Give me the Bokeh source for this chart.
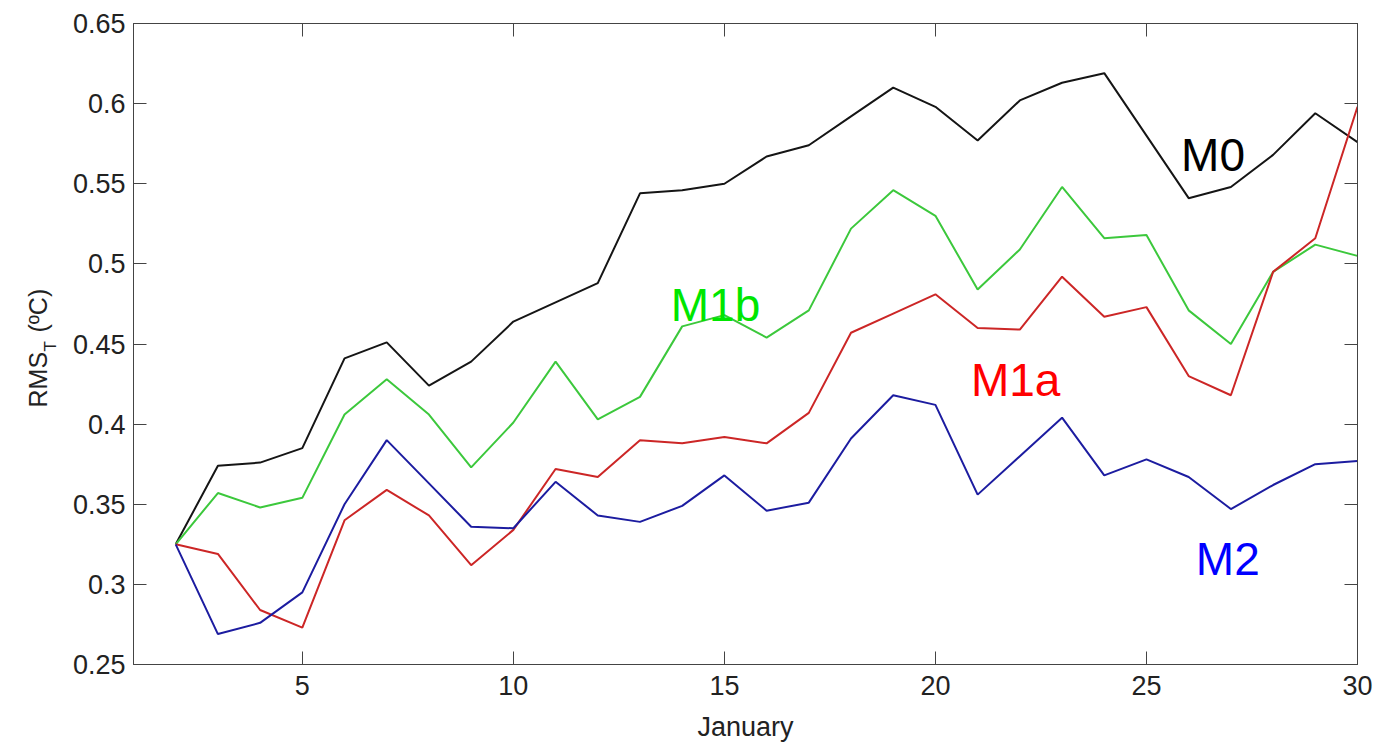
from bokeh.plotting import figure
from bokeh.models import (Range1d, FixedTicker, LinearAxis,
                          CustomJSTickFormatter, ColumnDataSource)
from bokeh.layouts import row
from bokeh.core.properties import value
from bokeh.embed import file_html
from bokeh.resources import INLINE
import math

# ---- data ----
days = list(range(2, 31))
m0 = [0.325, 0.374, 0.376, 0.385, 0.441, 0.451, 0.424, 0.439, 0.464, 0.476,
      0.488, 0.544, 0.546, 0.550, 0.567, 0.574, 0.592, 0.610, 0.598, 0.577,
      0.602, 0.613, 0.619, 0.580, 0.541, 0.548, 0.568, 0.594, 0.576]
m1b = [0.325, 0.357, 0.348, 0.354, 0.406, 0.428, 0.406, 0.373, 0.401, 0.439,
       0.403, 0.417, 0.461, 0.468, 0.454, 0.471, 0.522, 0.546, 0.530, 0.484,
       0.509, 0.548, 0.516, 0.518, 0.471, 0.450, 0.495, 0.512, 0.505]
m1a = [0.325, 0.319, 0.284, 0.273, 0.340, 0.359, 0.343, 0.312, 0.334, 0.372,
       0.367, 0.390, 0.388, 0.392, 0.388, 0.407, 0.457, 0.469, 0.481, 0.460,
       0.459, 0.492, 0.467, 0.473, 0.430, 0.418, 0.495, 0.516, 0.598]
m2 = [0.325, 0.269, 0.276, 0.295, 0.350, 0.390, 0.363, 0.336, 0.335, 0.364,
      0.343, 0.339, 0.349, 0.368, 0.346, 0.351, 0.391, 0.418, 0.412, 0.356,
      0.380, 0.404, 0.368, 0.378, 0.367, 0.347, 0.362, 0.375, 0.377]
series_names = ["M0", "M1b", "M1a", "M2"]
x_ticks = [5, 10, 15, 20, 25, 30]
y_ticks = [0.25, 0.3, 0.35, 0.4, 0.45, 0.5, 0.55, 0.6, 0.65]
x_label = "January"
y_label_parts = ["RMS", "T", "(\u00baC)"]

# ---- styles ----
line_colors = ["#151515", "#3cc83c", "#cc2626", "#1c1ca0"]
text_colors = ["#000000", "#00e600", "#ff0000", "#0000ff"]
label_pos = [(25.82, 0.5677), (13.73, 0.4745), (20.84, 0.4278), (26.17, 0.316)]
FONT = "Liberation Sans"
AX = "#444444"
TXT = "#222222"
LAB_W = 60
H = 744
B_TOP, B_BOT = 23, 78
# y-title pieces: (baseline x px in panel, start position on the y scale, font size)
ylab_layout = [(37, 0.4104, 25), (50, 0.4453, 17), (37, 0.4571, 25)]

yr = Range1d(0.25, 0.65)

# ---- y-axis title panel, sharing the main plot's vertical scale ----
lab = figure(width=LAB_W, height=H, output_backend="svg", toolbar_location=None,
             title=None, x_range=Range1d(0, LAB_W), y_range=yr,
             x_axis_type=None, y_axis_type=None,
             min_border_left=0, min_border_right=0,
             min_border_top=B_TOP, min_border_bottom=B_BOT)
lab.outline_line_color = None
lab.background_fill_color = "white"
lab.border_fill_color = "white"
lab.xgrid.visible = False
lab.ygrid.visible = False
for txt, (bx, yv, fs) in zip(y_label_parts, ylab_layout):
    lab.text(x=[bx], y=[yv], text=[txt], angle=math.pi / 2,
             text_font=value(FONT), text_font_size=f"{fs}px", text_color=TXT,
             text_align="left", text_baseline="alphabetic")

# ---- main plot ----
p = figure(width=1378 - LAB_W, height=H, output_backend="svg",
           toolbar_location=None, title=None,
           x_range=Range1d(1, 30), y_range=yr,
           min_border_left=133 - LAB_W, min_border_right=21,
           min_border_top=B_TOP, min_border_bottom=B_BOT)
p.background_fill_color = "white"
p.border_fill_color = "white"
p.outline_line_color = AX
p.xgrid.visible = False
p.ygrid.visible = False

fmt = CustomJSTickFormatter(code="return String(Math.round(tick*100)/100);")

def style_axis(ax, ticks, show_labels):
    ax.ticker = FixedTicker(ticks=ticks)
    ax.formatter = fmt
    ax.axis_line_color = AX
    ax.major_tick_line_color = AX
    ax.major_tick_in = 13
    ax.major_tick_out = 0
    ax.minor_tick_line_color = None
    ax.major_label_text_font = FONT
    ax.major_label_text_color = TXT
    if show_labels:
        ax.major_label_text_font_size = "27px"
    else:
        ax.major_label_text_font_size = "1px"
        ax.major_label_text_alpha = 0
        ax.major_label_standoff = 0

style_axis(p.xaxis[0], x_ticks, True)
style_axis(p.yaxis[0], y_ticks, True)
p.xaxis[0].major_label_standoff = 11
p.yaxis[0].major_label_standoff = 8
p.xaxis[0].axis_label = x_label
p.xaxis[0].axis_label_text_font = FONT
p.xaxis[0].axis_label_text_font_size = "27px"
p.xaxis[0].axis_label_text_font_style = "normal"
p.xaxis[0].axis_label_text_color = TXT
p.xaxis[0].axis_label_standoff = 14

top = LinearAxis()
right = LinearAxis()
style_axis(top, x_ticks, False)
style_axis(right, y_ticks, False)
p.add_layout(top, "above")
p.add_layout(right, "right")

for ys, c in zip([m0, m1b, m1a, m2], line_colors):
    p.line(days, ys, line_color=c, line_width=2)

src = ColumnDataSource(dict(x=[a for a, b in label_pos], y=[b for a, b in label_pos],
                            t=series_names, c=text_colors))
p.text(x="x", y="y", text="t", text_color="c", source=src,
       text_font=value(FONT), text_font_size="46px",
       text_align="left", text_baseline="alphabetic")

layout = row(lab, p, spacing=0)
open("out.html", "w").write(file_html(layout, INLINE))
